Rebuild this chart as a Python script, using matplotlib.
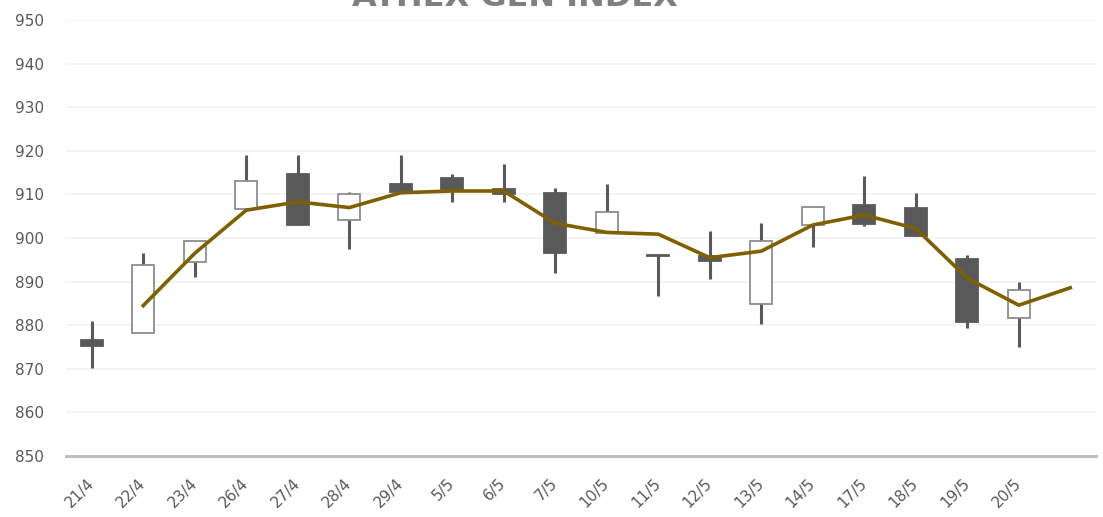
import numpy as np
import matplotlib.pyplot as plt
import matplotlib.transforms as mtransforms
from matplotlib.patches import Rectangle

# ATHEX GEN INDEX - daily candles with moving average
dates = ["21/4", "22/4", "23/4", "26/4", "27/4", "28/4", "29/4", "5/5", "6/5", "7/5",
         "10/5", "11/5", "12/5", "13/5", "14/5", "17/5", "18/5", "19/5", "20/5", ""]

open_ = [876.6, 878.3, 894.6, 906.6, 914.6, 904.1, 912.4, 913.7, 911.2, 910.3,
         901.1, 896.2, 895.8, 884.8, 903.1, 907.7, 906.8, 895.2, 881.7]
close = [875.2, 893.8, 899.4, 913.1, 903.1, 910.2, 910.5, 911.2, 910.0, 896.6,
         905.9, 895.9, 894.7, 899.4, 907.2, 903.2, 900.5, 880.7, 888.1]
high = [881.0, 896.5, 899.4, 919.0, 919.0, 910.6, 919.0, 914.6, 917.1, 911.5,
        912.5, 896.2, 901.7, 903.4, 907.2, 914.2, 910.4, 896.1, 890.0]
low = [870.3, 878.3, 891.0, 906.6, 903.1, 897.5, 910.5, 908.3, 908.3, 891.9,
       901.1, 886.8, 890.6, 880.3, 898.0, 902.8, 900.5, 879.3, 875.1]

# moving average (starts on the second day, runs one day past the last candle)
ma = [None, 884.5, 896.5, 906.4, 908.3, 907.0, 910.4, 910.8, 910.8, 903.4,
      901.3, 900.9, 895.5, 897.0, 903.0, 905.3, 902.2, 890.8, 884.6, 888.6]

dark = "#595959"
edge_white = "#8c8c8c"
ma_color = "#7f6000"

fig = plt.figure(figsize=(11.03, 5.17), dpi=100)
ax = fig.add_axes([0.0598, 0.118, 0.9339, 0.843])

x = np.arange(len(dates))
w = 0.43

for i in range(len(open_)):
    o, c, h, l = open_[i], close[i], high[i], low[i]
    ax.plot([i, i], [l, h], color=dark, lw=2.2, solid_capstyle="butt", zorder=2)
    if c >= o:
        rect = Rectangle((i - w / 2, o), w, c - o, facecolor="white",
                         edgecolor=edge_white, lw=1.3, zorder=3)
    else:
        rect = Rectangle((i - w / 2, c), w, max(o - c, 0.3), facecolor=dark,
                         edgecolor=dark, lw=1.3, zorder=3)
    ax.add_patch(rect)

ma_x = [i for i, v in enumerate(ma) if v is not None]
ma_y = [v for v in ma if v is not None]
ax.plot(ma_x, ma_y, color=ma_color, lw=2.6, zorder=4, solid_joinstyle="round")

ax.set_xlim(-0.5, len(dates) - 0.5)
ax.set_ylim(850, 950)
ax.set_yticks(np.arange(850, 951, 10))
ax.set_xticks(x)
ax.set_xticklabels(dates, rotation=45, ha="right", va="center",
                   rotation_mode="anchor")

# nudge the rotated labels left, as in the original
shift = mtransforms.ScaledTranslation(-7 / 100, 0, fig.dpi_scale_trans)
for lbl in ax.get_xticklabels():
    lbl.set_transform(lbl.get_transform() + shift)

ax.grid(axis="y", color="#f2f2f2", lw=1.2)
ax.set_axisbelow(True)
for s in ["top", "right", "left"]:
    ax.spines[s].set_visible(False)
ax.spines["bottom"].set_color("#bfbfbf")
ax.spines["bottom"].set_linewidth(2.2)
ax.tick_params(axis="both", length=0, colors="#595959", labelsize=11)
ax.tick_params(axis="y", pad=16)
ax.tick_params(axis="x", pad=18)

fig.text(0.467, 0.9875, "ATHEX GEN INDEX", ha="center", va="baseline",
         fontsize=23, fontweight="bold", color="#7f7f7f")

plt.savefig("out.png", dpi=100)
